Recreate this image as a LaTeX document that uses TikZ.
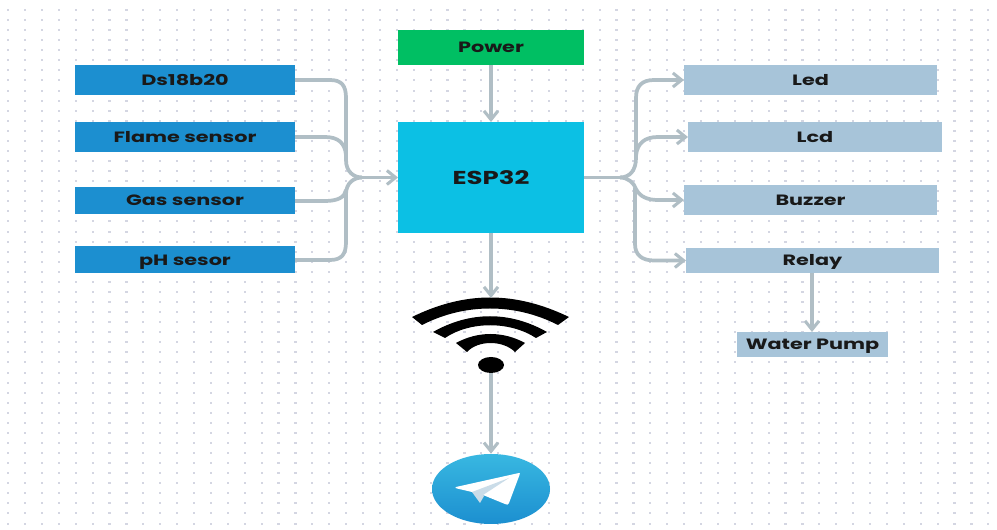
\documentclass[tikz,border=0pt]{standalone}
\usepackage{fontspec}
\setmainfont[FakeStretch=1.39]{Poppins}
\usetikzlibrary{arrows.meta,calc,shapes.geometric}
\definecolor{gridc}{HTML}{D4D6E2}
\definecolor{linec}{HTML}{B0BEC5}
\definecolor{leftc}{HTML}{1C8FD0}
\definecolor{rightc}{HTML}{A7C4D9}
\definecolor{powerc}{HTML}{00BF63}
\definecolor{espc}{HTML}{0CC0E4}
\tikzset{
  x=0.75pt,y=-0.75pt,
  boxn/.style={anchor=center,inner sep=0pt,outer sep=0pt,font=\bfseries\fontsize{11.2}{13}\selectfont,text=black!90},
  conn/.style={draw=linec,line width=2.8pt,line join=round},
  arr/.style={conn,-{Straight Barb[length=6.5pt,width=10.5pt,line width=2.3pt]}},
  band/.style={fill=black,draw=none}
}
\newcommand{\bx}[8]{%name, x0,y0,x1,y1,color,text,fontsize
  \node[boxn,fill=#6,minimum width={(#4-#2)*0.75pt},minimum height={(#5-#3)*0.75pt}] (#1) at ({(#2+#4)/2},{(#3+#5)/2}) {\fontsize{#8}{#8}\selectfont #7};}
\newcommand{\dn}[2]{\raisebox{-#1}[\height][\depth]{#2}}
\begin{document}
\begin{tikzpicture}
\useasboundingbox (0,0) rectangle (997,530);
\fill[white] (0,0) rectangle (997,530);
% dotted grid
\foreach \i in {0,...,58}{\foreach \j in {0,...,52}{
  \fill[gridc] ({8+16.9*\i-1},{10+10.07*\j-1}) rectangle +(2.2,2);}}
% nodes
\bx{ds}{75}{65}{295}{95}{leftc}{Ds18b20}{11.2}
\bx{flame}{75}{122}{295}{152}{leftc}{Flame sensor}{11.2}
\bx{gas}{75}{187}{295}{214}{leftc}{Gas sensor}{11.2}
\bx{ph}{75}{246}{295}{273}{leftc}{\dn{2.2pt}{pH sesor}}{11.2}
\bx{power}{398}{30}{584}{65}{powerc}{Power}{11.2}
\bx{esp}{398}{122}{584}{233}{espc}{ESP32}{14}
\bx{led}{684}{65}{937}{95}{rightc}{Led}{11.2}
\bx{lcd}{688}{122}{942}{152}{rightc}{Lcd}{11.2}
\bx{buzzer}{684}{185}{937}{215}{rightc}{Buzzer}{11.2}
\bx{relay}{686}{248}{939}{273}{rightc}{\dn{0.75pt}{Relay}}{11.2}
\bx{pump}{737}{332}{888}{357}{rightc}{\dn{1.5pt}{Water Pump}}{11.2}
% wifi
\coordinate (wifitop) at (491,298);
\fill[band] (412,317) .. controls (465,291) and (515,291) .. (569,317) -- (558,325) .. controls (515,303) and (465,303) .. (422,325) -- cycle;
\fill[band] (433,332) .. controls (470,311) and (510,311) .. (547,332) -- (536,338) .. controls (510,321) and (470,321) .. (445,338) -- cycle;
\fill[band] (456,343) .. controls (478,331) and (503,331) .. (525,343) -- (515,352) .. controls (503,340) and (478,340) .. (467,352) -- cycle;
\node[draw=none,fill=black,inner sep=0pt,minimum width=19.5pt,minimum height=12pt,shape=ellipse] (wifi) at (491,365) {};
% telegram
\shade[top color=leftc!75!cyan!85!white,bottom color=leftc] (491,489) ellipse [x radius=59,y radius=35];
\node[inner sep=0pt,shape=ellipse,minimum width=88.5pt,minimum height=52.5pt] (tg) at (491,489) {};
\fill[white] (519,473) -- (456,487) .. controls (455,488) and (455,488) .. (457,488.5) -- (472,492) -- (483,495) -- (505,504) .. controls (507,505) and (508,505) .. (509,503) -- (519.5,475) .. controls (520,473) and (520,473) .. (519,473) -- cycle;
\fill[rightc!60!white] (472,492) -- (480,503) -- (484,496) -- (483,495) -- (509,478) -- cycle;
% connectors
\coordinate (jl) at (362,177.5);
\draw[conn] (ds.east |- 0,80) -- (330,80) .. controls (342,80) and (346,86) .. (346,98) -- (346,160) .. controls (346,172) and (354,177.5) .. (jl);
\draw[conn] (flame.east) -- (325,137) .. controls (338,137) and (345,143) .. (346,155);
\draw[conn] (gas.east |- 0,201) -- (325,201) .. controls (338,201) and (345,197) .. (346,190);
\draw[conn] (ph.east |- 0,260) -- (330,260) .. controls (342,260) and (346,254) .. (346,242) -- (346,194) .. controls (346,183) and (354,177.5) .. (jl);
\draw[arr] (jl) -- (esp.west);
\draw[arr] (power.south) -- (esp.north);
\draw[arr] (esp.south) -- (wifitop);
\draw[arr] (wifi.south) -- (tg.north);
\coordinate (jr) at (620,177.5);
\draw[conn] (esp.east) -- (jr);
\draw[arr] (jr) .. controls (630,177.5) and (636,170) .. (636,158) -- (636,98) .. controls (636,86) and (642,80) .. (654,80) -- (led.west |- 0,80);
\draw[arr] (636,156) .. controls (637,143) and (645,137) .. (658,137) -- (lcd.west);
\draw[arr] (jr) .. controls (628,177.5) and (634,183) .. (636,189) .. controls (640,197) and (648,200) .. (658,200) -- (buzzer.west);
\draw[arr] (635,188) -- (635,244) .. controls (635,255) and (642,260.5) .. (654,260.5) -- (relay.west);
\draw[arr] (relay.south -| 812,0) -- (pump.north -| 812,0);
\end{tikzpicture}
\end{document}
